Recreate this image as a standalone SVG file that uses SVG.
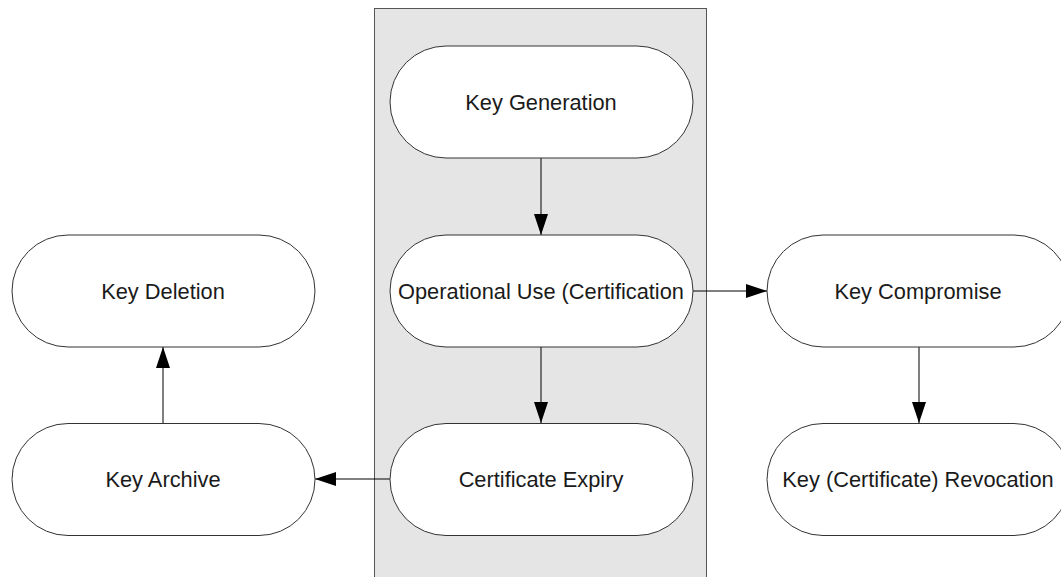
<svg xmlns="http://www.w3.org/2000/svg" width="1061" height="577" viewBox="0 0 1061 577">
<style>
.node{fill:#ffffff;stroke:#333333;stroke-width:1}
.lbl{font-family:"Liberation Sans",Arial,sans-serif;font-size:21.8px;fill:#1a1a1a;text-anchor:middle}
.edge{stroke:#000000;stroke-width:1;fill:none;marker-end:url(#ah)}
</style>
<defs>
<marker id="ah" markerWidth="22" markerHeight="14" refX="21" refY="7" orient="auto" markerUnits="userSpaceOnUse">
<path d="M0,0 L21,7 L0,14 Z" fill="#000000"/>
</marker>
</defs>
<rect id="lane" x="374.5" y="8.5" width="332" height="575" fill="#e5e5e5" stroke="#555555" stroke-width="1"/>
<g id="edges">
<line class="edge" x1="541" y1="158" x2="541" y2="235"/>
<line class="edge" x1="693" y1="291" x2="767" y2="291"/>
<line class="edge" x1="541" y1="347" x2="541" y2="423"/>
<line class="edge" x1="390" y1="479" x2="315" y2="479"/>
<line class="edge" x1="163" y1="423" x2="163" y2="347"/>
<line class="edge" x1="919" y1="347" x2="919" y2="423"/>
</g>
<g id="keyGeneration"><rect class="node" x="390" y="46" width="303" height="112" rx="56"/><text class="lbl" x="541" y="110">Key Generation</text></g>
<g id="operationalUse"><rect class="node" x="390" y="235" width="303" height="112" rx="56"/><text class="lbl" x="541" y="299">Operational Use (Certification</text></g>
<g id="certificateExpiry"><rect class="node" x="390" y="423.5" width="303" height="112" rx="56"/><text class="lbl" x="541" y="487">Certificate Expiry</text></g>
<g id="keyDeletion"><rect class="node" x="12" y="235" width="303" height="112" rx="56"/><text class="lbl" x="163" y="299">Key Deletion</text></g>
<g id="keyArchive"><rect class="node" x="12" y="423.5" width="303" height="112" rx="56"/><text class="lbl" x="163" y="487">Key Archive</text></g>
<g id="keyCompromise"><rect class="node" x="767" y="235" width="303" height="112" rx="56"/><text class="lbl" x="918" y="299">Key Compromise</text></g>
<g id="keyRevocation"><rect class="node" x="767" y="423.5" width="303" height="112" rx="56"/><text class="lbl" x="918" y="487">Key (Certificate) Revocation</text></g>
</svg>
